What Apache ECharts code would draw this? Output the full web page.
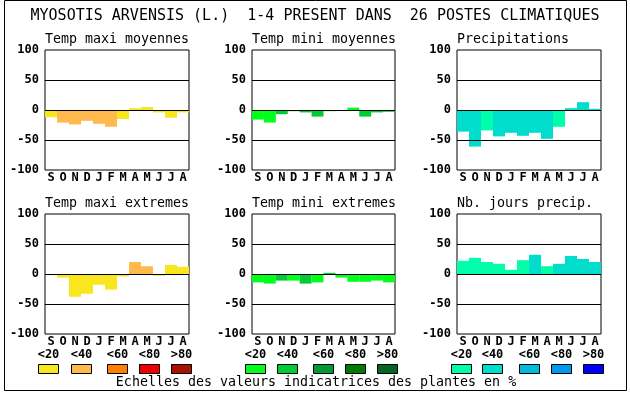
<!DOCTYPE html>
<html><head><meta charset="utf-8">
<script src="https://cdn.jsdelivr.net/npm/echarts@6/dist/echarts.min.js"></script>
<style>html,body{margin:0;padding:0;background:#fff}#c{width:630px;height:394px}</style>
</head><body><div id="c"></div>
<script>
const months = ['S','O','N','D','J','F','M','A','M','J','J','A'];
const yTicks = [-100, -50, 0, 50, 100];
const panelTitles = ['Temp maxi moyennes','Temp mini moyennes','Precipitations','Temp maxi extremes','Temp mini extremes','Nb. jours precip.'];
const mainTitle = 'MYOSOTIS ARVENSIS (L.)  1-4 PRESENT DANS  26 POSTES CLIMATIQUES';
const footer = 'Echelles des valeurs indicatrices des plantes en %';
const legendLabels = ['<20','<40','<60','<80','>80'];

const tmaxMoy    = [-12,-21,-24,-18,-23,-28,-15,3,5,-4,-13,-4];
const tmaxMoyCls = [0,1,1,1,1,1,0,0,0,0,0,0];
const tminMoy    = [-16,-21,-7,-2,-4,-11,-2,0,4,-11,-4,-3];
const tminMoyCls = [0,0,1,1,1,1,1,0,0,1,1,1];
const precip     = [-36,-61,-34,-44,-38,-43,-38,-48,-28,3,13,2];
const precipCls  = [1,1,0,1,1,1,1,1,0,1,1,1];
const tmaxExt    = [-2,-6,-38,-33,-18,-26,-4,20,13,-3,15,12];
const tmaxExtCls = [0,0,0,0,0,0,0,1,1,0,0,0];
const tminExt    = [-14,-16,-11,-11,-16,-14,2,-6,-13,-13,-11,-14];
const tminExtCls = [0,0,1,0,1,0,1,0,0,0,0,0];
const nbJours    = [22,27,20,17,7,23,32,13,17,30,25,20];
const nbJoursCls = [0,0,0,0,0,0,1,0,1,1,1,1];

const warm  = ['#FAE61E','#FFBA4D','#FF8000','#EE0000','#AA1100'];
const green = ['#00FF1A','#00CC33','#009933','#007A00','#006622'];
const blue  = ['#00FFAA','#00DDCC','#00BBDD','#0099EE','#0000FF'];

const panels = [
  {vals:tmaxMoy, cls:tmaxMoyCls, pal:warm},
  {vals:tminMoy, cls:tminMoyCls, pal:green},
  {vals:precip, cls:precipCls, pal:blue},
  {vals:tmaxExt, cls:tmaxExtCls, pal:warm},
  {vals:tminExt, cls:tminExtCls, pal:green},
  {vals:nbJours, cls:nbJoursCls, pal:blue}
];
const lefts = [45, 252, 457];
const widths = [144, 143, 144];
const tops = [50, 214];
const MONO = '"DejaVu Sans Mono", "Liberation Mono", monospace';

const grids = [], xAxes = [], yAxes = [], series = [], titles = [];
titles.push({text: mainTitle, left: 'center', top: 9, padding: 0, textStyle:{fontFamily:MONO, fontSize:15, fontWeight:'normal', color:'#000'}});
panels.forEach((p, i) => {
  const r = Math.floor(i/3), c = i%3;
  grids.push({left: lefts[c], top: tops[r], width: widths[c], height: 120, show: true, borderColor:'#000', borderWidth:1, backgroundColor:'#fff'});
  titles.push({text: panelTitles[i], left: lefts[c], top: tops[r]-17, padding: 0, textStyle:{fontFamily:MONO, fontSize:13.3, fontWeight:'normal', color:'#000'}});
  xAxes.push({type:'category', gridIndex:i, data: months, axisLine:{show:false}, axisTick:{show:false},
    axisLabel:{interval:0, margin:2, fontFamily:MONO, fontSize:12, fontWeight:'bold', color:'#000'}});
  yAxes.push({type:'value', gridIndex:i, min:-100, max:100, interval:50, axisLine:{show:false}, axisTick:{show:false},
    splitLine:{show:false},
    axisLabel:{margin:6, fontFamily:MONO, fontSize:12, fontWeight:'bold', color:'#000'}});
  series.push({type:'bar', xAxisIndex:i, yAxisIndex:i, barCategoryGap:'0%', animation:false,
    data: p.vals.map((v, k) => ({value: v, itemStyle:{color: p.pal[p.cls[k]]}})),
    markLine:{silent:true, symbol:['none','none'], animation:false, label:{show:false},
      lineStyle:{color:'#000', type:'solid', width:1},
      data: yTicks.filter(t => Math.abs(t) < 100).map(t => ({yAxis: t}))}});
});

const graphic = [
  {type:'rect', shape:{x:4.5, y:0.5, width:622, height:390}, style:{fill:'none', stroke:'#000', lineWidth:1}, silent:true},
  {type:'text', x:316, y:383, style:{text:footer, font:'13.3px '+MONO, fill:'#000', textAlign:'center', textVerticalAlign:'middle'}}
];
const swatchX = [[38,71,107,139,171],[245,277,313,345,377],[451,482,519,551,583]];
const pals = [warm, green, blue];
swatchX.forEach((xs, g) => {
  xs.forEach((x, k) => {
    graphic.push({type:'rect', shape:{x:x+0.5, y:364.5, width:20, height:9}, style:{fill:pals[g][k], stroke:'#000', lineWidth:1}, silent:true});
    graphic.push({type:'text', x:x+10.5, y:354.5, style:{text:legendLabels[k], font:'bold 12px '+MONO, fill:'#000', textAlign:'center', textVerticalAlign:'middle'}});
  });
});

const chart = echarts.init(document.getElementById('c'), null, {renderer:'canvas'});
chart.setOption({animation:false, backgroundColor:'#fff', title: titles, grid: grids, xAxis: xAxes, yAxis: yAxes, series: series, graphic: graphic});
</script></body></html>
